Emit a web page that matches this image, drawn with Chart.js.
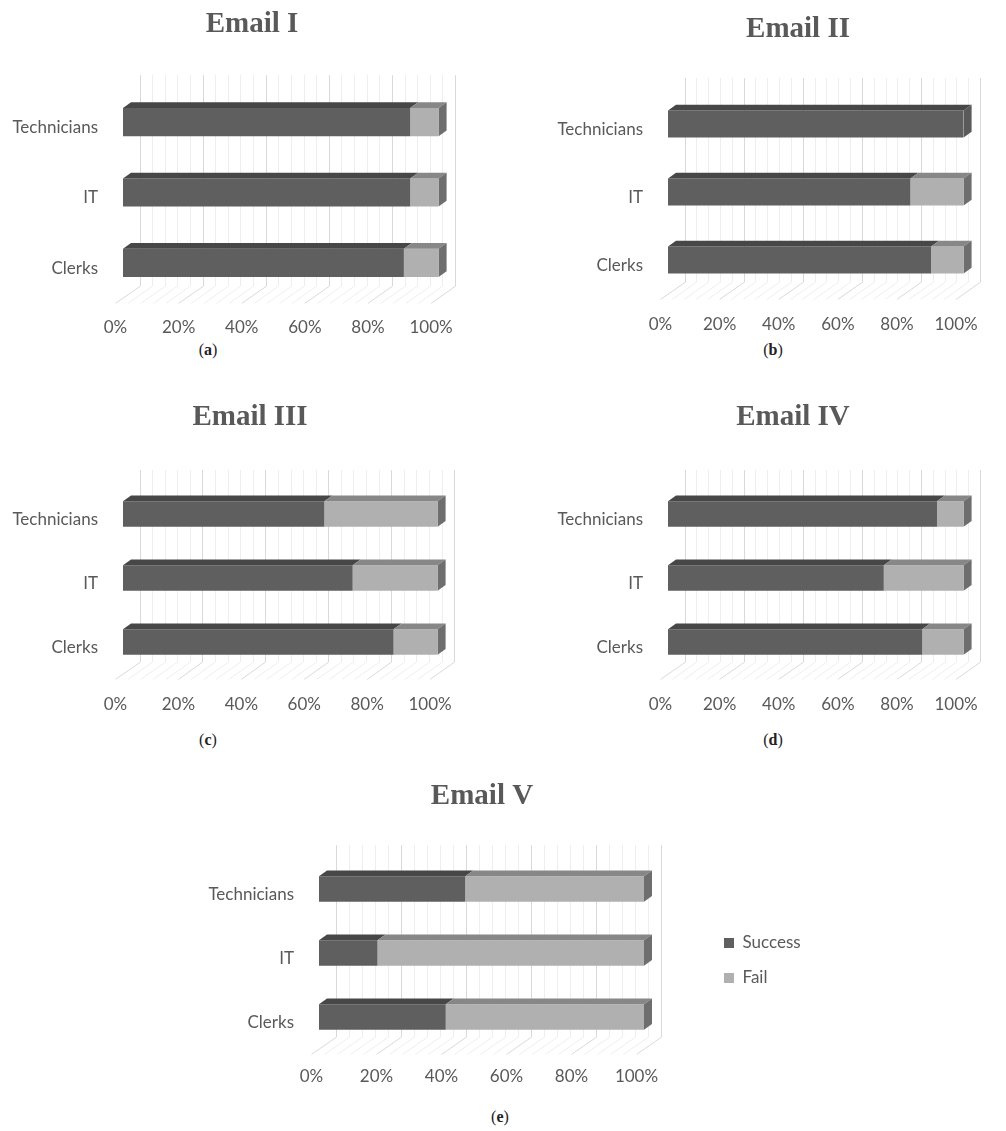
<!DOCTYPE html>
<html>
<head>
<meta charset="utf-8">
<script src="https://cdn.jsdelivr.net/npm/chart.js@4.4.0/dist/chart.umd.min.js"></script>
<style>
  html, body { margin: 0; padding: 0; background: #fff; overflow: hidden; }
  body { width: 1006px; height: 1131px; position: relative; }
  canvas { position: absolute; }
  .cap { position: absolute; font-family: 'Liberation Serif', serif; font-size: 16px; color: #222; transform: translate(-50%, -50%); white-space: nowrap; }
</style>
</head>
<body>
<div class="cap" style="left:208px;top:350px">(<b>a</b>)</div>
<div class="cap" style="left:773px;top:350px">(<b>b</b>)</div>
<div class="cap" style="left:208px;top:740px">(<b>c</b>)</div>
<div class="cap" style="left:773px;top:740px">(<b>d</b>)</div>
<div class="cap" style="left:500px;top:1117px">(<b>e</b>)</div>
<script>
// data (percent of staff per group)
const categories = ['Technicians', 'IT', 'Clerks'];
const seriesNames = ['Success', 'Fail'];
const tickValues = [0, 20, 40, 60, 80, 100];

const successI = [91, 91, 89];
const failI = [9, 9, 11];
const successII = [100, 82, 89];
const failII = [0, 18, 11];
const successIII = [64, 73, 86];
const failIII = [36, 27, 14];
const successIV = [91, 73, 86];
const failIV = [9, 27, 14];
const successV = [45, 18, 39];
const failV = [55, 82, 61];

// colours
const frontColors = ['#5f5f5f', '#b0b0b0'];
const topColors = ['#474747', '#878787'];
const sideColors = ['#5a5a5a', '#6e6e6e'];
const textColor = '#595959';

// fake 3D depth (pixels, relative to the bar front plane)
const DEPTH_K = 0.72;
const FLOOR_DX = -7.5, BACK_DX = 8, WALL_DX = 16.5;

const box3d = {
  id: 'box3d',
  afterLayout(chart) {
    const o = chart.config.options;
    const tb = chart.titleBlock;
    if (tb && o.titleCenter != null) {
      tb.left = o.titleCenter - 200;
      tb.right = o.titleCenter + 200;
    }
    const lg = chart.legend, spot = o.legendSpot;
    if (lg && spot) {
      const w = lg.width, h = lg.height;
      lg.left = spot.x; lg.right = spot.x + w;
      lg.top = spot.y; lg.bottom = spot.y + h;
    }
  },
  beforeDatasetsDraw(chart) {
    const { ctx, chartArea: a, scales: { x } } = chart;
    ctx.save();
    ctx.lineWidth = 1;
    for (let v = 0; v <= 100; v += 4) {
      const p = x.getPixelForValue(v);
      const wx = Math.round(p + WALL_DX) + 0.5;
      const wy = -WALL_DX * DEPTH_K;
      ctx.strokeStyle = v % 20 === 0 ? '#d9d9d9' : '#eeeeee';
      ctx.beginPath();
      ctx.moveTo(wx, a.top + wy);
      ctx.lineTo(wx, a.bottom + wy);
      ctx.lineTo(p + FLOOR_DX, a.bottom - FLOOR_DX * DEPTH_K);
      ctx.stroke();
    }
    ctx.restore();
  },
  afterDatasetsDraw(chart) {
    const { ctx } = chart;
    const dx = BACK_DX, dy = -BACK_DX * DEPTH_K;
    const sets = chart.data.datasets;
    ctx.save();
    sets.forEach((ds, i) => {
      const meta = chart.getDatasetMeta(i);
      meta.data.forEach((bar, j) => {
        const { x, base, y, height } = bar.getProps(['x', 'base', 'y', 'height'], true);
        if (Math.abs(x - base) < 0.5) return;
        const top = y - height / 2, bottom = y + height / 2;
        ctx.fillStyle = topColors[i];
        ctx.beginPath();
        ctx.moveTo(base, top);
        ctx.lineTo(x, top);
        ctx.lineTo(x + dx, top + dy);
        ctx.lineTo(base + dx, top + dy);
        ctx.closePath();
        ctx.fill();
        const covered = sets.slice(i + 1).some(d => d.data[j] > 0);
        if (!covered) {
          ctx.fillStyle = sideColors[i];
          ctx.beginPath();
          ctx.moveTo(x, top);
          ctx.lineTo(x + dx, top + dy);
          ctx.lineTo(x + dx, bottom + dy);
          ctx.lineTo(x, bottom);
          ctx.closePath();
          ctx.fill();
        }
      });
    });
    ctx.restore();
  }
};

// where each panel sits on the page
const panels = [
  { title: 'Email I', success: successI, fail: failI, cl: 0, cr: 480, al: 123, ar: 445, at: 87, ab: 298, tx: 252, ty: 25, tickY: 328 },
  { title: 'Email II', success: successII, fail: failII, cl: 540, cr: 1006, al: 668, ar: 991, at: 90, ab: 294, tx: 798, ty: 30, tickY: 325 },
  { title: 'Email III', success: successIII, fail: failIII, cl: 0, cr: 480, al: 123, ar: 441, at: 482, ab: 674, tx: 250, ty: 418, tickY: 705 },
  { title: 'Email IV', success: successIV, fail: failIV, cl: 540, cr: 1006, al: 668, ar: 983, at: 482, ab: 674, tx: 793, ty: 418, tickY: 705 },
  { title: 'Email V', success: successV, fail: failV, cl: 180, cr: 830, al: 319, ar: 644, at: 857, ab: 1049, tx: 482, ty: 797, tickY: 1077, legend: { x: 724, y: 943 } }
];

const TITLE_SIZE = 29, TITLE_LH = TITLE_SIZE * 1.2;
const TICK_SIZE = 17, TICK_LH = TICK_SIZE * 1.2;
const XAXIS_H = 45, LEG_PAD = 18;

panels.forEach(p => {
  const ct = Math.round(p.ty - 22);
  const cw = p.cr - p.cl;
  const ch = p.ab - ct + XAXIS_H;
  const yW = p.al - p.cl;
  const pr = p.cr - p.ar;
  const padTop = p.ty - ct - TITLE_LH / 2;
  const padBottom = p.at - ct - padTop - TITLE_LH;

  const cv = document.createElement('canvas');
  cv.width = cw; cv.height = ch;
  cv.style.left = p.cl + 'px';
  cv.style.top = ct + 'px';
  document.body.appendChild(cv);

  new Chart(cv.getContext('2d'), {
    type: 'bar',
    data: {
      labels: categories,
      datasets: [
        { label: seriesNames[0], data: p.success, backgroundColor: frontColors[0] },
        { label: seriesNames[1], data: p.fail, backgroundColor: frontColors[1] }
      ]
    },
    options: {
      indexAxis: 'y',
      responsive: false,
      animation: false,
      devicePixelRatio: 1,
      barPercentage: 0.4,
      categoryPercentage: 1.0,
      borderWidth: 0,
      titleCenter: p.tx - p.cl,
      legendSpot: p.legend ? { x: p.legend.x - p.cl - LEG_PAD, y: p.legend.y - ct - LEG_PAD - TICK_SIZE / 2 } : null,
      layout: { padding: { left: 0, right: pr, top: 0, bottom: 0 } },
      scales: {
        x: {
          stacked: true,
          min: 0,
          max: 100,
          afterBuildTicks: s => { s.ticks = tickValues.map(v => ({ value: v })); },
          afterFit: s => { s.height = XAXIS_H; },
          grid: { display: false, drawTicks: false },
          border: { display: false },
          ticks: {
            callback: v => v + '%',
            color: textColor,
            font: { family: 'Lato', size: TICK_SIZE },
            padding: p.tickY - p.ab - TICK_LH / 2,
            labelOffset: FLOOR_DX,
            maxRotation: 0,
            autoSkip: false
          }
        },
        y: {
          stacked: true,
          afterFit: s => { s.width = yW; },
          grid: { display: false, drawTicks: false },
          border: { display: false },
          ticks: {
            color: textColor,
            font: { family: 'Lato', size: TICK_SIZE },
            padding: 25,
            labelOffset: -FLOOR_DX * DEPTH_K
          }
        }
      },
      plugins: {
        title: {
          display: true,
          text: p.title,
          color: textColor,
          font: { family: 'Liberation Serif', size: TITLE_SIZE, weight: 'bold', lineHeight: 1.2 },
          padding: { top: padTop, bottom: padBottom }
        },
        legend: p.legend ? {
          display: true,
          position: 'chartArea',
          align: 'start',
          labels: {
            boxWidth: 10,
            boxHeight: 10,
            padding: LEG_PAD,
            color: textColor,
            font: { family: 'Lato', size: TICK_SIZE }
          }
        } : { display: false },
        tooltip: { enabled: false }
      }
    },
    plugins: [box3d]
  });
});
</script>
</body>
</html>
